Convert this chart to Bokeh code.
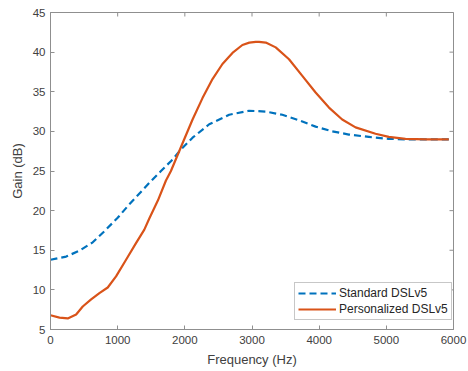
import math
from bokeh.plotting import figure
from bokeh.models import Range1d, FixedTicker, Legend, LegendItem
from bokeh.embed import file_html
from bokeh.resources import INLINE

std_freq = [0, 233, 431, 629, 802, 1000, 1174, 1471, 1645, 1800, 1942, 2115, 2363, 2660,
            2957, 3205, 3452, 3700, 3947, 4195, 4443, 4740, 5037, 5285, 5600, 5930]
std_gain = [13.8, 14.2, 14.95, 16.0, 17.4, 19.1, 20.8, 23.5, 25.0, 26.3, 27.7, 29.2, 30.9, 32.1,
            32.6, 32.5, 32.1, 31.4, 30.6, 30.0, 29.6, 29.3, 29.05, 29.0, 29.0, 29.0]

per_freq = [0, 134, 257, 382, 480, 605, 728, 852, 976, 1125, 1273, 1397, 1471, 1600, 1719,
            1793, 1966, 2115, 2263, 2412, 2560, 2709, 2857, 2960, 3056, 3105, 3205, 3353,
            3551, 3749, 3947, 4146, 4343, 4542, 4839, 5037, 5285, 5600, 5930]
per_gain = [6.8, 6.5, 6.4, 6.9, 7.9, 8.8, 9.6, 10.3, 11.7, 13.8, 15.9, 17.6, 19.0, 21.3, 23.8,
            25.0, 28.5, 31.5, 34.2, 36.6, 38.5, 39.9, 40.9, 41.2, 41.3, 41.3, 41.2, 40.6,
            39.1, 37.0, 34.9, 33.0, 31.5, 30.5, 29.7, 29.3, 29.05, 29.0, 29.0]

x_ticks = [0, 1000, 2000, 3000, 4000, 5000, 6000]
y_ticks = [5, 10, 15, 20, 25, 30, 35, 40, 45]
series_names = ["Standard DSLv5", "Personalized DSLv5"]

FONT = "Liberation Sans"
AX = "#8f8f8f"
TXT = "#404040"
X0, X1, Y0, Y1 = 0, 6000, 5, 45

p = figure(frame_width=403, frame_height=317, output_backend="svg", toolbar_location=None,
           x_range=Range1d(X0, X1), y_range=Range1d(Y0, Y1),
           min_border_left=50, min_border_right=14, min_border_top=12, min_border_bottom=40)
p.grid.visible = False
p.outline_line_color = AX
p.outline_line_width = 1
p.background_fill_color = "white"
p.border_fill_color = "white"

for ax in (p.xaxis[0], p.yaxis[0]):
    ax.major_tick_in = 4
    ax.major_tick_out = 0
    ax.minor_tick_line_color = None
    ax.axis_line_color = AX
    ax.major_tick_line_color = AX
    ax.major_label_text_font = FONT
    ax.major_label_text_font_size = "11.5px"
    ax.major_label_text_color = TXT
    ax.axis_label_text_font = FONT
    ax.axis_label_text_font_size = "13px"
    ax.axis_label_text_font_style = "normal"
    ax.axis_label_text_color = TXT

p.xaxis[0].ticker = FixedTicker(ticks=x_ticks)
p.yaxis[0].ticker = FixedTicker(ticks=y_ticks)
p.xaxis[0].axis_label = "Frequency (Hz)"
p.yaxis[0].axis_label = "Gain (dB)"
p.xaxis[0].major_label_standoff = 6
p.yaxis[0].major_label_standoff = 5
p.xaxis[0].axis_label_standoff = 5
p.yaxis[0].axis_label_standoff = 5

# inward ticks on the top and right edges of the box (clipped to the frame)
p.scatter(x_ticks, [Y1] * len(x_ticks), marker="dash", size=8, angle=math.pi / 2,
          line_color=AX, line_width=1)
p.scatter([X1] * len(y_ticks), y_ticks, marker="dash", size=8,
          line_color=AX, line_width=1)

r1 = p.line(std_freq, std_gain, line_color="#0072BD", line_width=2.2, line_dash="7 4",
            line_join="round")
r2 = p.line(per_freq, per_gain, line_color="#D95319", line_width=2.2, line_join="round")

legend = Legend(items=[LegendItem(label=series_names[0], renderers=[r1]),
                       LegendItem(label=series_names[1], renderers=[r2])],
                location=(244, 9))
legend.label_text_font = FONT
legend.label_text_font_size = "12px"
legend.label_text_color = "#262626"
legend.glyph_width = 38
legend.glyph_height = 14
legend.label_height = 14
legend.label_standoff = 3
legend.spacing = 2
legend.padding = 3
legend.margin = 0
legend.border_line_color = AX
legend.border_line_width = 1
legend.background_fill_alpha = 1
p.add_layout(legend, "center")

open("out.html", "w").write(file_html(p, INLINE))
